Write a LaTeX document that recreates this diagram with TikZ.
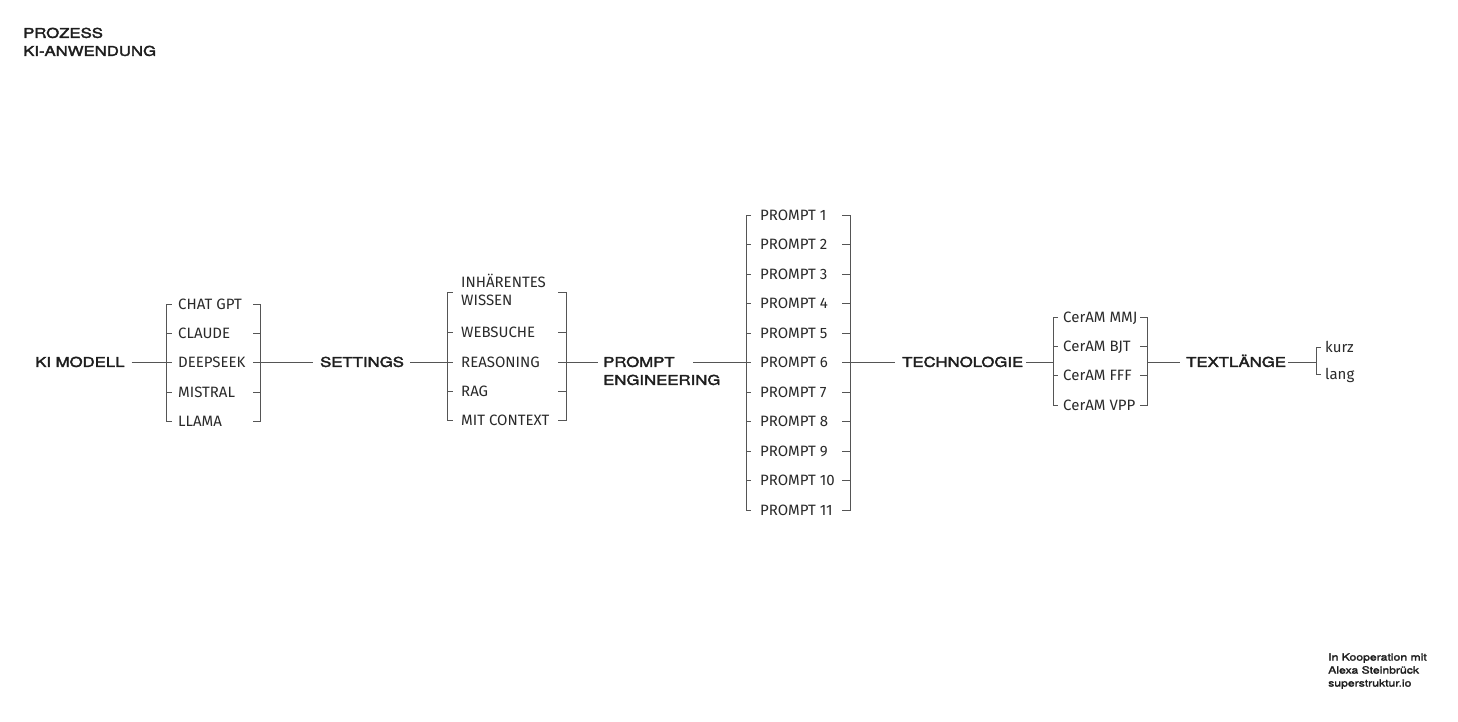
\documentclass[tikz,border=0pt]{standalone}
\usepackage{fontspec}
\setmainfont{Fira Sans}
\newfontfamily\hfont[FakeStretch=1.24,FakeBold=2.6]{TeX Gyre Heros}
\newfontfamily\cfont[FakeStretch=1.22,FakeBold=2]{TeX Gyre Heros}
\definecolor{linec}{HTML}{555555}
\definecolor{itemc}{HTML}{2A2A2A}
\definecolor{headc}{HTML}{1E1E1E}
\begin{document}
\begin{tikzpicture}[x=1pt,y=-1pt,
  head/.style={font=\hfont\fontsize{13.5}{16}\selectfont, text=headc, inner sep=0pt, anchor=west, text height=9.7pt, text depth=0pt},
  ttl/.style={font=\hfont\fontsize{13.5}{16}\selectfont, text=headc, inner sep=0pt, anchor=west, text height=9.7pt, text depth=0pt},
  cred/.style={font=\cfont\fontsize{10}{12}\selectfont, text=headc, inner sep=0pt, anchor=west, text height=7.2pt, text depth=0pt},
  item/.style={font=\fontsize{15}{18}\selectfont, text=itemc, inner sep=0pt, anchor=west, text height=10.3pt, text depth=0pt},
  ln/.style={draw=linec, line width=0.9pt},
]
\useasboundingbox[fill=white] (0,0) rectangle (1458,722);

% title and credits
\node[ttl] (t1) at (23,33) {PROZESS};
\node[ttl] (t2) at (23,51) {KI-ANWENDUNG};
\node[cred] (k1) at (1328,657) {In Kooperation mit};
\node[cred] (k2) at (1328,670) {Alexa Steinbrück};
\node[cred] (k3) at (1328,683) {superstruktur.io};

% headers
\node[head] (ki) at (35,362) {KI MODELL};
\node[head] (set) at (320,362) {SETTINGS};
\node[head] (peA) at (603,362) {PROMPT};
\node[head] (peB) at (603,380) {ENGINEERING};
\node[head] (tech) at (902,362) {TECHNOLOGIE};
\node[head] (tl) at (1186,362) {TEXTLÄNGE};

% bracket coordinates
\coordinate (aL) at (166.5,0); \coordinate (aR) at (260,0);
\coordinate (bL) at (447.5,0); \coordinate (bR) at (566,0);
\coordinate (cL) at (746,0);   \coordinate (cR) at (850,0);
\coordinate (dL) at (1053,0);  \coordinate (dR) at (1147,0);
\coordinate (eL) at (1316,0);
\coordinate (peOut) at (693,362);

% group A
\node[item] (a1) at (178,304) {CHAT GPT};
\node[item] (a2) at (178,333.5) {CLAUDE};
\node[item] (a3) at (178,362) {DEEPSEEK};
\node[item] (a4) at (178,392) {MISTRAL};
\node[item] (a5) at (178,421.5) {LLAMA};
\draw[ln] (aL |- a1) ++(5,0) -- (aL |- a1) -- (aL |- a5) -- ++(5,0);
\draw[ln] (aR |- a1) ++(-7,0) -- (aR |- a1) -- (aR |- a5) -- ++(-7,0);
\foreach \n in {a2,a3,a4}{
  \draw[ln] (aL |- \n) -- ++(5,0);
  \draw[ln] (aR |- \n) -- ++(-7,0);
}

% group B
\node[item] (b1) at (461,282) {INHÄRENTES};
\node[item] (b1w) at (461,300) {WISSEN};
\coordinate (b1m) at (461,292);
\node[item] (b2) at (461,332) {WEBSUCHE};
\node[item] (b3) at (461,362) {REASONING};
\node[item] (b4) at (461,391) {RAG};
\node[item] (b5) at (461,420.5) {MIT CONTEXT};
\draw[ln] (bL |- b1m) ++(5,0) -- (bL |- b1m) -- (bL |- b5) -- ++(5,0);
\draw[ln] (bR |- b1m) ++(-8,0) -- (bR |- b1m) -- (bR |- b5) -- ++(-8,0);
\foreach \n in {b2,b3,b4}{
  \draw[ln] (bL |- \n) -- ++(5,0);
  \draw[ln] (bR |- \n) -- ++(-8,0);
}

% group C
\foreach \i in {1,...,11}{
  \node[item] (c\i) at (760,{215+(\i-1)*29.5}) {PROMPT \i};
}
\draw[ln] (cL |- c1) ++(5,0) -- (cL |- c1) -- (cL |- c11) -- ++(5,0);
\draw[ln] (cR |- c1) ++(-8,0) -- (cR |- c1) -- (cR |- c11) -- ++(-8,0);
\foreach \i in {2,...,10}{
  \draw[ln] (cL |- c\i) -- ++(5,0);
  \draw[ln] (cR |- c\i) -- ++(-8,0);
}

% group D
\node[item] (d1) at (1063,317) {CerAM MMJ};
\node[item] (d2) at (1063,346.3) {CerAM BJT};
\node[item] (d3) at (1063,375.7) {CerAM FFF};
\node[item] (d4) at (1063,405) {CerAM VPP};
\draw[ln] (dL |- d1) ++(5,0) -- (dL |- d1) -- (dL |- d4) -- ++(5,0);
\draw[ln] (dR |- d1) ++(-7,0) -- (dR |- d1) -- (dR |- d4) -- ++(-7,0);
\foreach \n in {d2,d3}{
  \draw[ln] (dL |- \n) -- ++(5,0);
  \draw[ln] (dR |- \n) -- ++(-7,0);
}

% group E
\node[item] (e1) at (1325,347) {kurz};
\node[item] (e2) at (1325,374) {lang};
\draw[ln] (eL |- e1) ++(5,0) -- (eL |- e1) -- (eL |- e2) -- ++(5,0);

% main connectors
\draw[ln] ([xshift=7pt]ki.east) -- (aL |- ki.east);
\draw[ln] (aR |- set.west) -- ([xshift=-7pt]set.west);
\draw[ln] ([xshift=6pt]set.east) -- (bL |- set.east);
\draw[ln] (bR |- peA.west) -- ([xshift=-5pt]peA.west);
\draw[ln] (peOut) -- (cL |- peOut);
\draw[ln] (cR |- tech.west) -- ([xshift=-7pt]tech.west);
\draw[ln] ([xshift=3pt]tech.east) -- (dL |- tech.east);
\draw[ln] (dR |- tl.west) -- ([xshift=-6pt]tl.west);
\draw[ln] ([xshift=2pt]tl.east) -- (eL |- tl.east);
\end{tikzpicture}
\end{document}
